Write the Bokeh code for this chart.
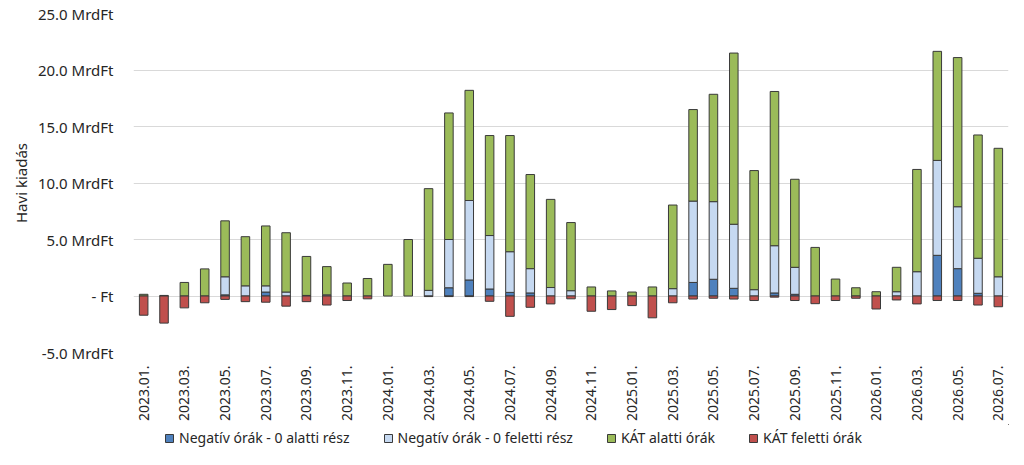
import numpy as np
from bokeh.plotting import figure
from bokeh.layouts import column
from bokeh.models import ColumnDataSource, Range1d, FixedTicker, Legend, LegendItem
from bokeh.embed import file_html
from bokeh.resources import INLINE

months = ["2023.01.", "2023.02.", "2023.03.", "2023.04.", "2023.05.", "2023.06.",
          "2023.07.", "2023.08.", "2023.09.", "2023.10.", "2023.11.", "2023.12.",
          "2024.01.", "2024.02.", "2024.03.", "2024.04.", "2024.05.", "2024.06.",
          "2024.07.", "2024.08.", "2024.09.", "2024.10.", "2024.11.", "2024.12.",
          "2025.01.", "2025.02.", "2025.03.", "2025.04.", "2025.05.", "2025.06.",
          "2025.07.", "2025.08.", "2025.09.", "2025.10.", "2025.11.", "2025.12.",
          "2026.01.", "2026.02.", "2026.03.", "2026.04.", "2026.05.", "2026.06.",
          "2026.07."]

# MrdFt
neg_below0 = [0, 0, 0, 0, 0.1, 0, 0.35, 0, 0, 0, 0, 0,
              0, 0, 0, 0.73, 1.42, 0.62, 0.32, 0.27, 0, 0, 0, 0,
              0, 0, 0, 1.2, 1.48, 0.68, 0, 0.27, 0.15, 0, 0, 0,
              0, 0, 0, 3.6, 2.42, 0.24, 0]
neg_above0 = [0, 0, 0, 0, 1.6, 0.9, 0.55, 0.35, 0.05, 0.1, 0, 0,
              0, 0, 0.5, 4.27, 7.03, 4.73, 3.6, 2.15, 0.75, 0.47, 0, 0,
              0, 0, 0.65, 7.2, 6.87, 5.67, 0.56, 4.18, 2.39, 0, 0, 0,
              0, 0.38, 2.15, 8.4, 5.48, 3.1, 1.7]
kat_below = [0.15, 0.05, 1.2, 2.4, 4.95, 4.35, 5.3, 5.25, 3.45, 2.5, 1.15, 1.55,
             2.8, 5.0, 9.0, 11.2, 9.75, 8.85, 10.28, 8.33, 7.8, 6.03, 0.8, 0.45,
             0.35, 0.8, 7.4, 8.1, 9.5, 15.15, 10.54, 13.65, 7.79, 4.3, 1.5, 0.73,
             0.38, 2.16, 9.05, 9.65, 13.2, 10.91, 11.37]
kat_above = [-1.7, -2.4, -1.05, -0.6, -0.3, -0.5, -0.55, -0.9, -0.5, -0.8, -0.4, -0.25,
             0, 0, -0.05, -0.05, -0.05, -0.47, -1.8, -1.0, -0.7, -0.25, -1.35, -1.2,
             -0.85, -1.93, -0.6, -0.27, -0.2, -0.27, -0.4, -0.1, -0.4, -0.68, -0.4, -0.2,
             -1.15, -0.35, -0.7, -0.4, -0.4, -0.8, -0.95]

series_names = ["Negatív órák - 0 alatti rész", "Negatív órák - 0 feletti rész",
                "KÁT alatti órák", "KÁT feletti órák"]

ytick_values = [-5, 0, 5, 10, 15, 20, 25]
ytick_labels = ["-5.0 MrdFt", "- Ft", "5.0 MrdFt", "10.0 MrdFt", "15.0 MrdFt",
                "20.0 MrdFt", "25.0 MrdFt"]

colors = ["#4F81BD", "#C6D9F1", "#9BBB59", "#C0504D"]
FONT = "Noto Sans"
TXT = "#262626"
OUTLINE = "#3a3a3a"

x = np.arange(len(months))
d = np.array(neg_below0, dtype=float)
l = np.array(neg_above0, dtype=float)
g = np.array(kat_below, dtype=float)
r = np.array(kat_above, dtype=float)

segments = [
    (np.zeros_like(d), d),
    (d, d + l),
    (d + l, d + l + g),
    (r, np.zeros_like(r)),
]

W = 1005
p = figure(width=W, height=424, output_backend="svg", toolbar_location=None,
           x_range=Range1d(-0.5, len(months) - 0.5), y_range=Range1d(-5, 25),
           min_border_left=119, min_border_right=4, min_border_top=13,
           min_border_bottom=72)
p.outline_line_color = None
p.background_fill_color = "white"
p.border_fill_color = "white"

for (bot, top), col in zip(segments, colors):
    mask = np.abs(top - bot) > 1e-9
    src = ColumnDataSource(dict(x=x[mask], bottom=bot[mask], top=top[mask]))
    p.vbar(x="x", bottom="bottom", top="top", width=0.42, source=src,
           fill_color=col, line_color=OUTLINE, line_width=1)

# y axis
p.yaxis.ticker = FixedTicker(ticks=ytick_values)
p.yaxis.major_label_overrides = {v: s for v, s in zip(ytick_values, ytick_labels)}
p.yaxis.axis_line_color = None
p.yaxis.major_tick_line_color = None
p.yaxis.minor_tick_line_color = None
p.yaxis.major_label_standoff = 14
p.yaxis.major_label_text_font = FONT
p.yaxis.major_label_text_font_size = "15px"
p.yaxis.major_label_text_color = TXT
p.yaxis.axis_label = "Havi kiadás"
p.yaxis.axis_label_text_font = FONT
p.yaxis.axis_label_text_font_size = "15px"
p.yaxis.axis_label_text_font_style = "normal"
p.yaxis.axis_label_text_color = TXT
p.yaxis.axis_label_standoff = 4

# x axis
p.xaxis.ticker = FixedTicker(ticks=list(x[::2]))
p.xaxis.major_label_overrides = {int(i): months[i] for i in x[::2]}
p.xaxis.major_label_orientation = np.pi / 2
p.xaxis.axis_line_color = None
p.xaxis.major_tick_line_color = None
p.xaxis.minor_tick_line_color = None
p.xaxis.major_label_standoff = 7
p.xaxis.major_label_text_font = FONT
p.xaxis.major_label_text_font_size = "14px"
p.xaxis.major_label_text_color = TXT

p.xgrid.grid_line_color = None
p.ygrid.grid_line_color = "#d9d9d9"
p.ygrid.grid_line_width = 1

# legend strip below the chart (its glyphs sit outside the visible range)
pl = figure(width=W, height=23, output_backend="svg", toolbar_location=None,
            x_range=Range1d(0, 1), y_range=Range1d(0, 1),
            x_axis_location=None, y_axis_location=None,
            min_border=0)
pl.outline_line_color = None
pl.grid.visible = False
items = []
for col, name in zip(colors, series_names):
    rr = pl.vbar(x=[5], bottom=[5], top=[6], width=0.1, fill_color=col,
                 line_color=OUTLINE, line_width=1)
    items.append(LegendItem(label=name, renderers=[rr]))
legend = Legend(items=items, orientation="horizontal", location=(31, 0),
                glyph_width=10, glyph_height=10, label_standoff=5, spacing=33,
                padding=2, margin=0, border_line_color=None,
                background_fill_alpha=0,
                label_text_font=FONT, label_text_font_size="14px",
                label_text_color=TXT)
pl.add_layout(legend, "center")

layout = column(p, pl, spacing=0, margin=(0, 0, 0, 7))
open("out.html", "w").write(file_html(layout, INLINE))
